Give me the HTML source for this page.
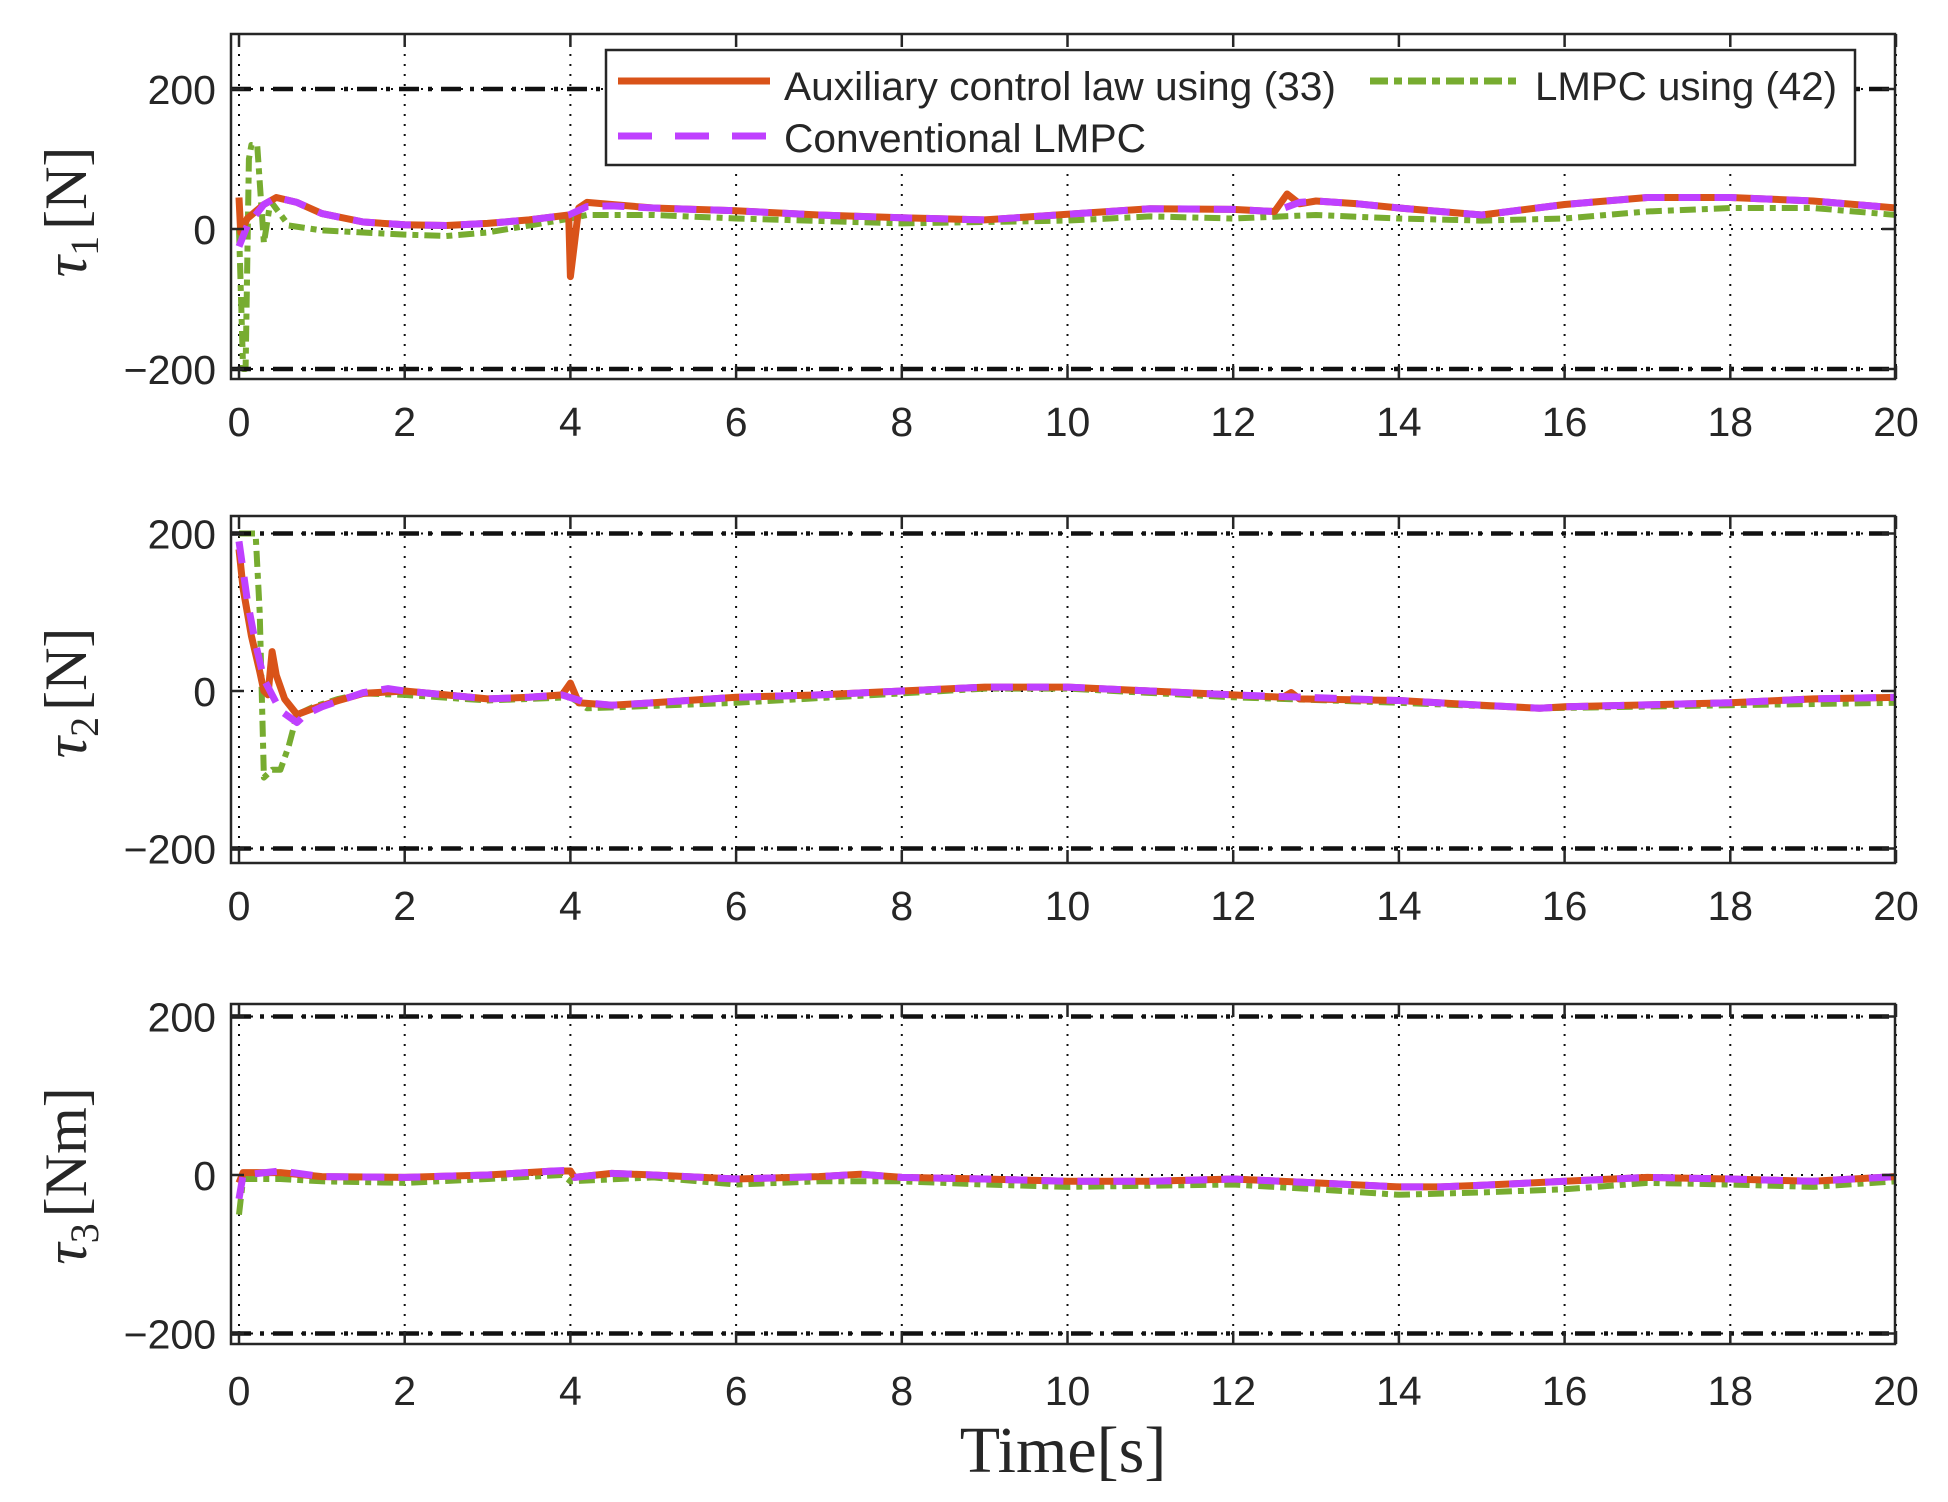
<!DOCTYPE html>
<html><head><meta charset="utf-8"><style>
html,body{margin:0;padding:0;background:#fff;}
svg{display:block;}
text{font-family:"Liberation Sans",Arial,sans-serif;fill:#262626;}
.serif{font-family:"Liberation Serif","DejaVu Serif",serif;}
</style></head><body>
<svg id="chart" xmlns="http://www.w3.org/2000/svg" width="1948" height="1502" viewBox="0 0 1948 1502">
<g id="root"></g>
<g>
  <rect x="606" y="50" width="1249" height="115" fill="#fff" stroke="#262626" stroke-width="2.5"/>
  <line x1="618" y1="81" x2="770" y2="81" stroke="#D95319" stroke-width="7"/>
  <text x="784" y="100" font-size="40" textLength="552" lengthAdjust="spacingAndGlyphs">Auxiliary control law using (33)</text>
  <line x1="1370" y1="81" x2="1517" y2="81" stroke="#77AC30" stroke-width="7" stroke-dasharray="18,6,8,6"/>
  <text x="1535" y="100" font-size="40" textLength="302" lengthAdjust="spacingAndGlyphs">LMPC using (42)</text>
  <line x1="618" y1="136" x2="770" y2="136" stroke="#BF40FF" stroke-width="7" stroke-dasharray="34,23"/>
  <text x="784" y="152" font-size="40" textLength="362" lengthAdjust="spacingAndGlyphs">Conventional LMPC</text>
</g>
<text class="serif" x="1063" y="1472" font-size="66" text-anchor="middle">Time[s]</text>
</svg>
<script>
const xTicks=[0,2,4,6,8,10,12,14,16,18,20];
const yTicks=[-200,0,200];
const limitValues=[200,-200];
// Panel 1 (tau1)
const p1AuxT=[0,0.02,0.1,0.3,0.45,0.7,1,1.5,2,2.5,3,3.5,3.98,4.0,4.05,4.1,4.2,4.5,5,6,7,8,9,10,11,12,12.5,12.65,12.8,13,13.5,14,15,16,17,18,19,20];
const p1AuxV=[45,-5,15,35,45,38,22,10,6,5,8,13,20,-68,-20,30,38,35,30,26,20,16,13,21,29,28,25,50,36,40,36,30,20,35,45,45,40,30];
const p1ConvT=[0,0.1,0.3,0.45,0.7,1,1.5,2,2.5,3,3.5,3.98,4.2,4.5,5,6,7,8,9,10,11,12,12.5,12.8,13,13.5,14,15,16,17,18,19,20];
const p1ConvV=[-25,5,35,45,38,22,10,6,5,8,13,20,32,33,30,26,20,16,13,21,29,28,25,38,40,36,30,20,35,45,45,40,30];
const p1LmpcT=[0,0.05,0.08,0.12,0.15,0.22,0.3,0.38,0.6,1,2,2.5,3,3.5,4,4.2,5,6,8,9,10,11,12,13,14,15,16,17,18,19,20];
const p1LmpcV=[0,-200,-200,100,120,120,-20,40,5,-2,-8,-10,-5,5,15,20,20,15,8,10,12,18,15,20,15,12,15,25,30,30,20];
// Panel 2 (tau2)
const p2AuxT=[0,0.05,0.15,0.25,0.3,0.35,0.4,0.45,0.55,0.7,0.9,1.2,1.5,2,2.5,3,3.5,3.9,4.0,4.1,4.5,5,6,7,8,9,10,11,12,12.6,12.7,12.8,14,15,15.7,16,18,19,20];
const p2AuxV=[180,130,70,25,0,-5,50,20,-10,-30,-22,-12,-3,0,-5,-10,-8,-5,10,-15,-18,-15,-8,-5,0,5,5,0,-5,-8,-2,-10,-12,-18,-22,-20,-15,-10,-8];
const p2ConvT=[0,0.1,0.2,0.3,0.4,0.5,0.7,0.8,1,1.5,1.8,2,2.5,3,3.5,3.9,4.2,4.5,5,6,7,8,9,10,11,12,14,15,15.7,16,18,19,20];
const p2ConvV=[190,115,60,15,-5,-25,-40,-30,-20,-2,3,0,-5,-10,-8,-5,-15,-18,-15,-8,-5,0,5,5,0,-5,-12,-18,-22,-20,-15,-10,-8];
const p2LmpcT=[0,0.2,0.25,0.3,0.4,0.5,0.6,0.7,0.9,1.2,1.5,2,3,4,4.2,6,8,9,10,12,14,15.7,18,20];
const p2LmpcV=[200,200,100,-110,-100,-100,-70,-30,-20,-10,-3,-5,-12,-8,-22,-15,-3,3,3,-8,-15,-22,-18,-15];
// Panel 3 (tau3)
const p3AuxT=[0,0.05,0.5,1,2,3,3.8,4,4.05,4.5,5,6,7,7.5,8,9,10,11,12,13,14,14.5,15,16,17,18,19,20];
const p3AuxV=[-10,3,3,-2,-3,0,5,5,-3,2,0,-5,-2,1,-3,-5,-8,-8,-5,-10,-15,-15,-13,-8,-3,-5,-8,-2];
const p3ConvT=[0,0.05,0.5,1,2,3,3.8,4,4.05,4.5,5,6,7,7.5,8,9,10,11,12,13,14,14.5,15,16,17,18,19,20];
const p3ConvV=[-30,0,5,-2,-3,0,5,6,-3,2,0,-5,-2,1,-3,-5,-8,-8,-5,-10,-15,-15,-13,-8,-3,-5,-8,-2];
const p3LmpcT=[0,0.05,0.5,1,2,3,3.9,4,5,6,7,8,9,10,12,13,14,15,16,17,18,19,20];
const p3LmpcV=[-50,-5,-5,-8,-10,-5,0,-8,-3,-12,-8,-8,-12,-15,-12,-18,-25,-22,-18,-10,-12,-15,-8];

const NS="http://www.w3.org/2000/svg";
const root=document.getElementById('root');
const X0=239, XPX=82.85;
function xs(t){return X0+t*XPX;}
function mk(tag,attrs,parent){const e=document.createElementNS(NS,tag);for(const k in attrs)e.setAttribute(k,attrs[k]);(parent||root).appendChild(e);return e;}

const panels=[
 {key:'tau1',top:34,bottom:379,zero:229,s:0.7,sub:'1',unit:'[N]',labY:212,tickY:436,
  series:[[p1LmpcT,p1LmpcV,'lmpc42'],[p1AuxT,p1AuxV,'aux'],[p1ConvT,p1ConvV,'conventional']]},
 {key:'tau2',top:516,bottom:863,zero:691,s:0.7875,sub:'2',unit:'[N]',labY:693,tickY:920,
  series:[[p2LmpcT,p2LmpcV,'lmpc42'],[p2AuxT,p2AuxV,'aux'],[p2ConvT,p2ConvV,'conventional']]},
 {key:'tau3',top:1004,bottom:1344,zero:1175,s:0.7925,sub:'3',unit:'[Nm]',labY:1176,tickY:1405,
  series:[[p3LmpcT,p3LmpcV,'lmpc42'],[p3AuxT,p3AuxV,'aux'],[p3ConvT,p3ConvV,'conventional']]}
];
const styles={aux:{stroke:'#D95319',w:7,dash:''},conventional:{stroke:'#BF40FF',w:7,dash:'22,14'},lmpc42:{stroke:'#77AC30',w:6,dash:'16,6,6,6'}};
const L=231,R=1895;
panels.forEach(p=>{
  const ys=v=>p.zero-v*p.s;
  const g=mk('g',{});
  
  
  const clipId='clip-'+p.key;
  const cp=mk('clipPath',{id:clipId},g);
  mk('rect',{x:L,y:p.top,width:R-L,height:p.bottom-p.top},cp);
  xTicks.forEach(t=>{
    const gl=mk('line',{x1:xs(t),x2:xs(t),y1:p.top,y2:p.bottom,stroke:'#111','stroke-width':2,'stroke-dasharray':'2,8'},g);
    
    
  });
  yTicks.forEach(v=>{
    const gl=mk('line',{x1:L,x2:R,y1:ys(v),y2:ys(v),stroke:'#111','stroke-width':2,'stroke-dasharray':'2,8'},g);
    
    
  });
  p.series.forEach(([T,V,name])=>{
    const st=styles[name];
    const d=T.map((t,i)=>(i?'L':'M')+xs(t).toFixed(1)+','+ys(V[i]).toFixed(1)).join(' ');
    const path=mk('path',{d:d,fill:'none',stroke:st.stroke,'stroke-width':st.w,'stroke-dasharray':st.dash,'stroke-linejoin':'round','clip-path':'url(#'+clipId+')'},g);
    
    
  });
  limitValues.forEach(v=>{
    const ll=mk('line',{x1:L,x2:R,y1:ys(v),y2:ys(v),stroke:'#111','stroke-width':4.5,'stroke-dasharray':'20,9,4,9'},g);
    
    
  });
  const fr=mk('rect',{x:L,y:p.top,width:R-L,height:p.bottom-p.top,fill:'none',stroke:'#262626','stroke-width':2.5},g);
  
  
  xTicks.forEach(t=>{
    mk('line',{x1:xs(t),x2:xs(t),y1:p.bottom,y2:p.bottom-13,stroke:'#262626','stroke-width':2.5},g);
    mk('line',{x1:xs(t),x2:xs(t),y1:p.top,y2:p.top+13,stroke:'#262626','stroke-width':2.5},g);
    const tx=mk('text',{x:xs(t),y:p.tickY,'font-size':41,'text-anchor':'middle'},g);
    tx.textContent=t;
    
    
  });
  yTicks.forEach(v=>{
    mk('line',{x1:L,x2:L+13,y1:ys(v),y2:ys(v),stroke:'#262626','stroke-width':2.5},g);
    mk('line',{x1:R,x2:R-13,y1:ys(v),y2:ys(v),stroke:'#262626','stroke-width':2.5},g);
    const tx=mk('text',{x:216,y:ys(v)+15,'font-size':41,'text-anchor':'end'},g);
    tx.textContent=v<0?'\u2212'+Math.abs(v):String(v);
    
    
  });
  const yl=mk('text',{class:'serif',x:0,y:0,'font-size':60,'text-anchor':'middle',transform:'translate(86,'+p.labY+') rotate(-90)'},g);
  
  
  const a=mk('tspan',{'font-style':'italic'},yl);a.textContent='\u03c4';
  const b=mk('tspan',{'font-size':40,dy:12},yl);b.textContent=p.sub;
  const c=mk('tspan',{dy:-12,dx:6},yl);c.textContent=p.unit;
});
</script>
</body></html>
